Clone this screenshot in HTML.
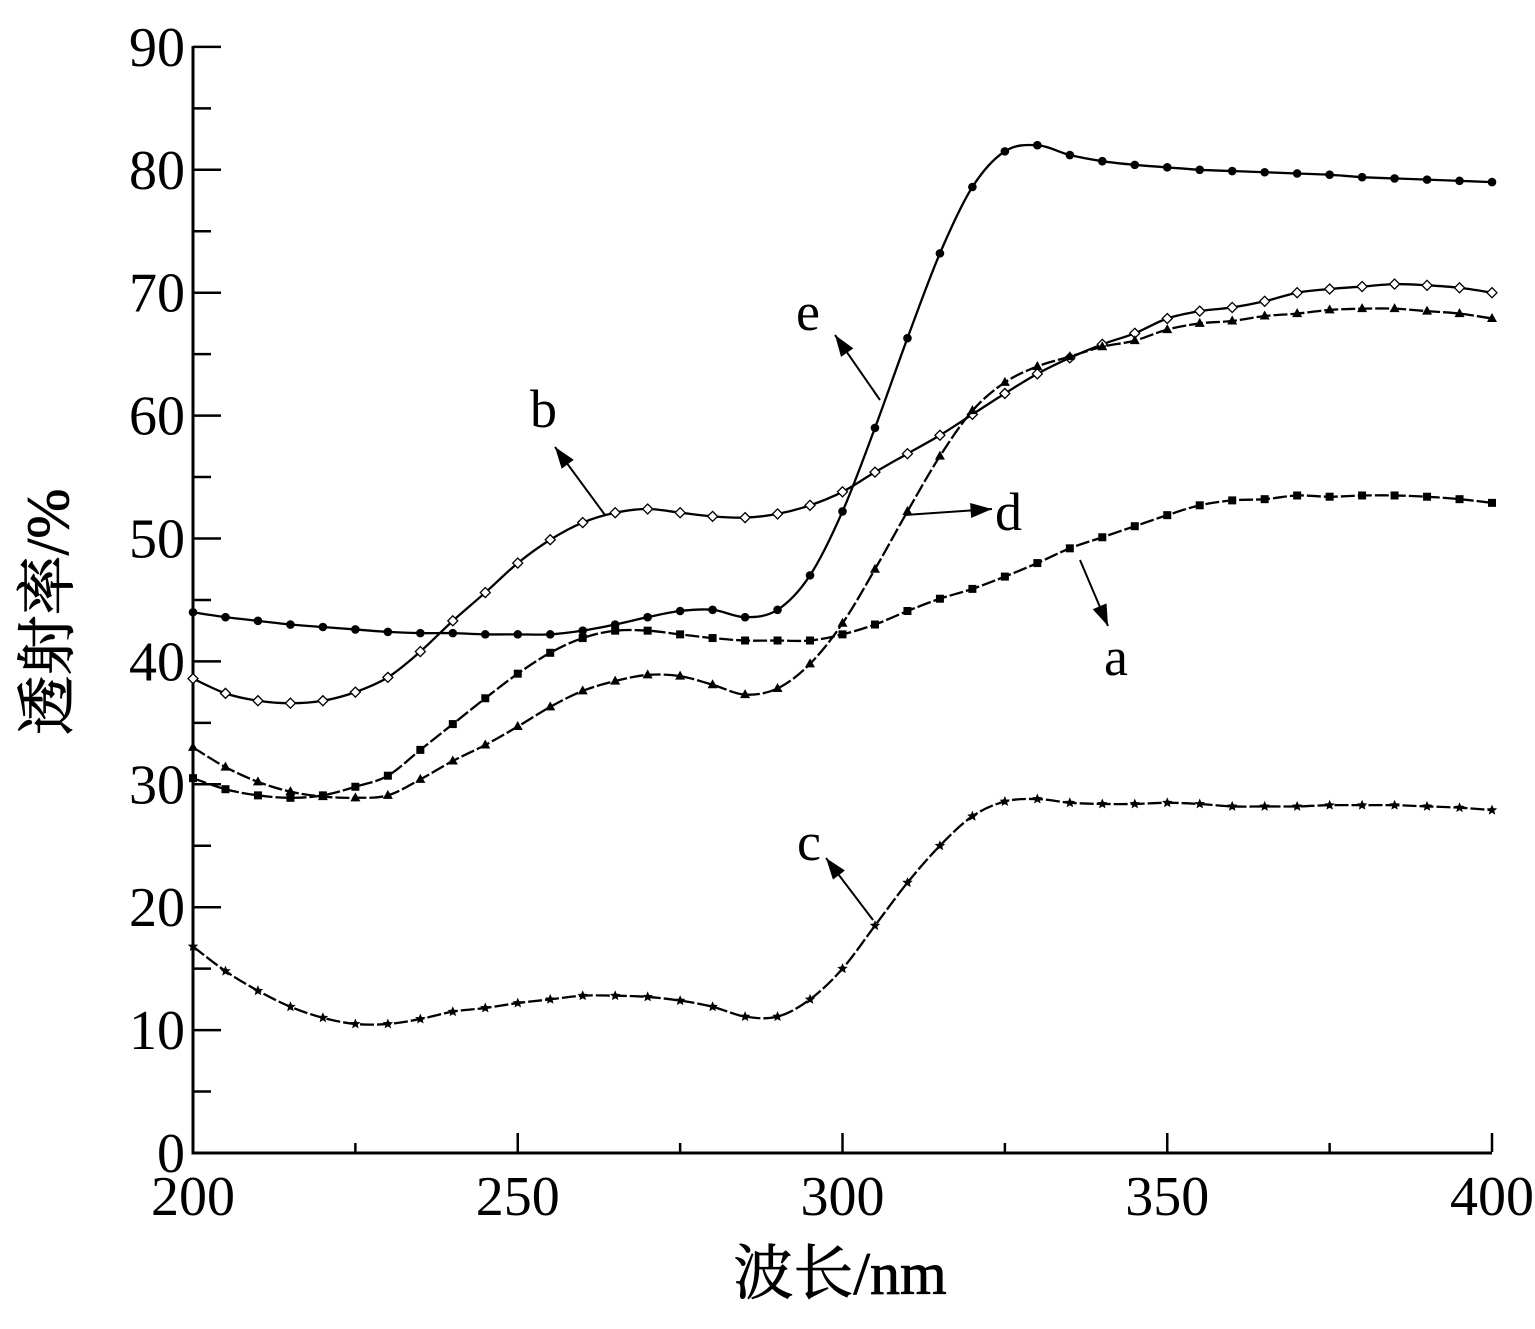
<!DOCTYPE html>
<html><head><meta charset="utf-8"><style>
html,body{margin:0;padding:0;background:#fff}
svg text{font-family:"Liberation Serif","Noto Serif CJK SC",serif;fill:#000}
</style></head><body>
<svg id="s" width="1535" height="1324" viewBox="0 0 1535 1324" xmlns="http://www.w3.org/2000/svg">
<defs>
<marker id="ahb" viewBox="0 0 20 14" refX="20" refY="7" markerWidth="22" markerHeight="15" markerUnits="userSpaceOnUse" orient="auto"><path d="M0,0 L20,7 L0,14 z" fill="#000"/></marker>
</defs>
<g id="axes" stroke="#000" stroke-width="3" fill="none">
<path d="M193,46 L193,1153 L1492,1153"/>
</g>
<g id="ticks" stroke="#000" stroke-width="2.5"></g>
<g id="series"></g>
<g font-size="56" text-anchor="end" id="ylab"></g>
<g font-size="56" text-anchor="middle" id="xlab"></g>
<text x="840" y="1294" font-size="60" text-anchor="middle" stroke="#000" stroke-width="0.8">波长/nm</text>
<text transform="translate(68,612) rotate(-90)" font-size="60" text-anchor="middle" stroke="#000" stroke-width="0.8">透射率/%</text>
<g font-size="54">
<text x="796" y="330">e</text>
<text x="530" y="427">b</text>
<text x="995" y="530">d</text>
<text x="1104" y="675">a</text>
<text x="797" y="860">c</text>
</g>
<g stroke="#000" stroke-width="2" fill="none">
<line x1="880" y1="400" x2="835" y2="335" marker-end="url(#ahb)"/>
<line x1="605" y1="515" x2="555" y2="447" marker-end="url(#ahb)"/>
<line x1="905" y1="515" x2="992" y2="509" marker-end="url(#ahb)"/>
<line x1="1080" y1="560" x2="1108" y2="626" marker-end="url(#ahb)"/>
<line x1="873" y1="920" x2="826" y2="858" marker-end="url(#ahb)"/>
</g>
</svg>
<script>
const X=v=>193+(v-200)*6.495, Y=v=>1153-v*12.29;
const NS="http://www.w3.org/2000/svg";
function el(p,t,a){const e=document.createElementNS(NS,t);for(const k in a)e.setAttribute(k,a[k]);p.appendChild(e);return e;}
const tk=document.getElementById('ticks'),yl=document.getElementById('ylab'),xl=document.getElementById('xlab');
for(let v=0;v<=90;v+=5){const y=Y(v);el(tk,'line',{x1:193,x2:v%10?211:221,y1:y,y2:y});
 if(v%10==0){const t=el(yl,'text',{x:185,y:y+19});t.textContent=v;}}
for(let v=200;v<=400;v+=25){const x=X(v);el(tk,'line',{x1:x,x2:x,y1:1152,y2:v%50?1143:1133});
 if(v%50==0){const t=el(xl,'text',{x:x,y:1215});t.textContent=v;}}
const D={
e:[44,43.6,43.3,43,42.8,42.6,42.4,42.3,42.3,42.2,42.2,42.2,42.5,43,43.6,44.1,44.2,43.6,44.2,47,52.2,59,66.3,73.2,78.6,81.5,82,81.2,80.7,80.4,80.2,80,79.9,79.8,79.7,79.6,79.4,79.3,79.2,79.1,79],
b:[38.6,37.4,36.8,36.6,36.8,37.5,38.7,40.8,43.3,45.6,48,49.9,51.3,52.1,52.4,52.1,51.8,51.7,52,52.7,53.8,55.4,56.9,58.4,60.1,61.8,63.4,64.7,65.8,66.7,67.9,68.5,68.8,69.3,70,70.3,70.5,70.7,70.6,70.4,70],
d:[33,31.4,30.2,29.4,29,28.9,29.1,30.4,31.9,33.2,34.7,36.3,37.6,38.4,38.9,38.8,38.1,37.3,37.8,39.8,43.1,47.5,52.2,56.7,60.4,62.7,64,64.8,65.6,66.1,67,67.5,67.7,68.1,68.3,68.6,68.7,68.7,68.5,68.3,67.9],
a:[30.5,29.6,29.1,28.9,29.1,29.8,30.7,32.8,34.9,37,39,40.7,41.9,42.5,42.5,42.2,41.9,41.7,41.7,41.7,42.2,43,44.1,45.1,45.9,46.9,48,49.2,50.1,51,51.9,52.7,53.1,53.2,53.5,53.4,53.5,53.5,53.4,53.2,52.9],
c:[16.8,14.8,13.2,11.9,11,10.5,10.5,10.9,11.5,11.8,12.2,12.5,12.8,12.8,12.7,12.4,11.9,11.1,11.1,12.5,15,18.5,22,25,27.4,28.6,28.8,28.5,28.4,28.4,28.5,28.4,28.2,28.2,28.2,28.3,28.3,28.3,28.2,28.1,27.9]};
const g=document.getElementById('series');
function star(x,y,r){let p='';for(let i=0;i<10;i++){const a=-Math.PI/2+i*Math.PI/5,rr=i%2?r*0.45:r;p+=(i?'L':'M')+(x+rr*Math.cos(a)).toFixed(1)+','+(y+rr*Math.sin(a)).toFixed(1);}return p+'Z';}
for(const k in D){
 const pts=D[k].map((v,i)=>[X(200+5*i),Y(v)]);
 let d='M'+pts[0].join(',');
 for(let i=0;i<pts.length-1;i++){const p0=pts[i-1]||pts[i],p1=pts[i],p2=pts[i+1],p3=pts[i+2]||p2;
  d+=`C${p1[0]+(p2[0]-p0[0])/6},${p1[1]+(p2[1]-p0[1])/6} ${p2[0]-(p3[0]-p1[0])/6},${p2[1]-(p3[1]-p1[1])/6} ${p2[0]},${p2[1]}`;}
 el(g,'path',{d:d,fill:'none',stroke:'#000','stroke-width':2.3,'stroke-dasharray':k=='e'||k=='b'?'none':'14,3'});
 for(const [x,y] of pts){
  if(k=='e')el(g,'circle',{cx:x,cy:y,r:4.3,fill:'#000'});
  else if(k=='a')el(g,'rect',{x:x-4,y:y-4,width:8,height:8,fill:'#000'});
  else if(k=='d')el(g,'path',{d:`M${x},${y-5.5}L${x+5},${y+3.5}L${x-5},${y+3.5}Z`,fill:'#000'});
  else if(k=='b')el(g,'path',{d:`M${x},${y-5}L${x+5},${y}L${x},${y+5}L${x-5},${y}Z`,fill:'#fff',stroke:'#000','stroke-width':1.3});
  else el(g,'path',{d:star(x,y,5.5),fill:'#000'});
 }
}
</script>
</body></html>
